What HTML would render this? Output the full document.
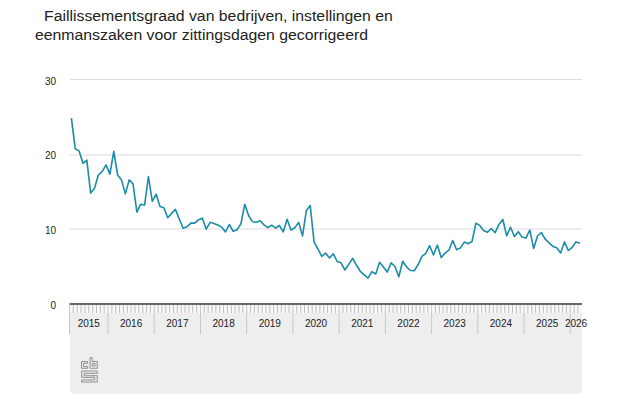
<!DOCTYPE html>
<html><head><meta charset="utf-8">
<style>
html,body{margin:0;padding:0;background:#fff;}
body{width:626px;height:417px;position:relative;overflow:hidden;font-family:"Liberation Sans",sans-serif;}
.t{position:absolute;white-space:nowrap;font-size:15.4px;color:#222;line-height:18px;transform:scaleX(1.027);transform-origin:0 0;}
svg{position:absolute;left:0;top:0;}
</style></head><body>
<div class="t" style="left:44px;top:7px">Faillissementsgraad van bedrijven, instellingen en</div>
<div class="t" style="left:34.5px;top:25.6px">eenmanszaken voor zittingsdagen gecorrigeerd</div>
<svg width="626" height="417" viewBox="0 0 626 417" font-family="Liberation Sans" font-size="10" fill="#222">
<g stroke="#dcdcdc" stroke-width="1">
<line x1="70" y1="79.5" x2="582" y2="79.5"/>
<line x1="70" y1="155" x2="582" y2="155"/>
<line x1="70" y1="229" x2="582" y2="229"/>
</g>
<g text-anchor="end">
<text x="56" y="84.5">30</text>
<text x="56" y="158.6">20</text>
<text x="56" y="233.6">10</text>
<text x="56" y="308.7">0</text>
</g>
<path d="M70,305 H582 V389 a5,5 0 0 1 -5,5 H75 a5,5 0 0 1 -5,-5 Z" fill="#eeeeee"/>
<rect x="70" y="305" width="512" height="8" fill="#f8f8f8"/>
<line x1="69.5" y1="305" x2="69.5" y2="334" stroke="#c8c8c8" stroke-width="1"/>
<line x1="73.35" y1="305" x2="73.35" y2="313" stroke="#bfbfbf" stroke-width="1"/>
<line x1="77.20" y1="305" x2="77.20" y2="313" stroke="#bfbfbf" stroke-width="1"/>
<line x1="81.06" y1="305" x2="81.06" y2="313" stroke="#bfbfbf" stroke-width="1"/>
<line x1="84.91" y1="305" x2="84.91" y2="313" stroke="#bfbfbf" stroke-width="1"/>
<line x1="88.76" y1="305" x2="88.76" y2="313" stroke="#bfbfbf" stroke-width="1"/>
<line x1="92.61" y1="305" x2="92.61" y2="313" stroke="#bfbfbf" stroke-width="1"/>
<line x1="96.46" y1="305" x2="96.46" y2="313" stroke="#bfbfbf" stroke-width="1"/>
<line x1="100.32" y1="305" x2="100.32" y2="313" stroke="#bfbfbf" stroke-width="1"/>
<line x1="104.17" y1="305" x2="104.17" y2="313" stroke="#bfbfbf" stroke-width="1"/>
<line x1="108.02" y1="305" x2="108.02" y2="334" stroke="#c8c8c8" stroke-width="1"/>
<line x1="111.87" y1="305" x2="111.87" y2="313" stroke="#bfbfbf" stroke-width="1"/>
<line x1="115.72" y1="305" x2="115.72" y2="313" stroke="#bfbfbf" stroke-width="1"/>
<line x1="119.58" y1="305" x2="119.58" y2="313" stroke="#bfbfbf" stroke-width="1"/>
<line x1="123.43" y1="305" x2="123.43" y2="313" stroke="#bfbfbf" stroke-width="1"/>
<line x1="127.28" y1="305" x2="127.28" y2="313" stroke="#bfbfbf" stroke-width="1"/>
<line x1="131.13" y1="305" x2="131.13" y2="313" stroke="#bfbfbf" stroke-width="1"/>
<line x1="134.98" y1="305" x2="134.98" y2="313" stroke="#bfbfbf" stroke-width="1"/>
<line x1="138.84" y1="305" x2="138.84" y2="313" stroke="#bfbfbf" stroke-width="1"/>
<line x1="142.69" y1="305" x2="142.69" y2="313" stroke="#bfbfbf" stroke-width="1"/>
<line x1="146.54" y1="305" x2="146.54" y2="313" stroke="#bfbfbf" stroke-width="1"/>
<line x1="150.39" y1="305" x2="150.39" y2="313" stroke="#bfbfbf" stroke-width="1"/>
<line x1="154.24" y1="305" x2="154.24" y2="334" stroke="#c8c8c8" stroke-width="1"/>
<line x1="158.10" y1="305" x2="158.10" y2="313" stroke="#bfbfbf" stroke-width="1"/>
<line x1="161.95" y1="305" x2="161.95" y2="313" stroke="#bfbfbf" stroke-width="1"/>
<line x1="165.80" y1="305" x2="165.80" y2="313" stroke="#bfbfbf" stroke-width="1"/>
<line x1="169.65" y1="305" x2="169.65" y2="313" stroke="#bfbfbf" stroke-width="1"/>
<line x1="173.50" y1="305" x2="173.50" y2="313" stroke="#bfbfbf" stroke-width="1"/>
<line x1="177.36" y1="305" x2="177.36" y2="313" stroke="#bfbfbf" stroke-width="1"/>
<line x1="181.21" y1="305" x2="181.21" y2="313" stroke="#bfbfbf" stroke-width="1"/>
<line x1="185.06" y1="305" x2="185.06" y2="313" stroke="#bfbfbf" stroke-width="1"/>
<line x1="188.91" y1="305" x2="188.91" y2="313" stroke="#bfbfbf" stroke-width="1"/>
<line x1="192.76" y1="305" x2="192.76" y2="313" stroke="#bfbfbf" stroke-width="1"/>
<line x1="196.62" y1="305" x2="196.62" y2="313" stroke="#bfbfbf" stroke-width="1"/>
<line x1="200.47" y1="305" x2="200.47" y2="334" stroke="#c8c8c8" stroke-width="1"/>
<line x1="204.32" y1="305" x2="204.32" y2="313" stroke="#bfbfbf" stroke-width="1"/>
<line x1="208.17" y1="305" x2="208.17" y2="313" stroke="#bfbfbf" stroke-width="1"/>
<line x1="212.02" y1="305" x2="212.02" y2="313" stroke="#bfbfbf" stroke-width="1"/>
<line x1="215.88" y1="305" x2="215.88" y2="313" stroke="#bfbfbf" stroke-width="1"/>
<line x1="219.73" y1="305" x2="219.73" y2="313" stroke="#bfbfbf" stroke-width="1"/>
<line x1="223.58" y1="305" x2="223.58" y2="313" stroke="#bfbfbf" stroke-width="1"/>
<line x1="227.43" y1="305" x2="227.43" y2="313" stroke="#bfbfbf" stroke-width="1"/>
<line x1="231.28" y1="305" x2="231.28" y2="313" stroke="#bfbfbf" stroke-width="1"/>
<line x1="235.14" y1="305" x2="235.14" y2="313" stroke="#bfbfbf" stroke-width="1"/>
<line x1="238.99" y1="305" x2="238.99" y2="313" stroke="#bfbfbf" stroke-width="1"/>
<line x1="242.84" y1="305" x2="242.84" y2="313" stroke="#bfbfbf" stroke-width="1"/>
<line x1="246.69" y1="305" x2="246.69" y2="334" stroke="#c8c8c8" stroke-width="1"/>
<line x1="250.54" y1="305" x2="250.54" y2="313" stroke="#bfbfbf" stroke-width="1"/>
<line x1="254.40" y1="305" x2="254.40" y2="313" stroke="#bfbfbf" stroke-width="1"/>
<line x1="258.25" y1="305" x2="258.25" y2="313" stroke="#bfbfbf" stroke-width="1"/>
<line x1="262.10" y1="305" x2="262.10" y2="313" stroke="#bfbfbf" stroke-width="1"/>
<line x1="265.95" y1="305" x2="265.95" y2="313" stroke="#bfbfbf" stroke-width="1"/>
<line x1="269.80" y1="305" x2="269.80" y2="313" stroke="#bfbfbf" stroke-width="1"/>
<line x1="273.66" y1="305" x2="273.66" y2="313" stroke="#bfbfbf" stroke-width="1"/>
<line x1="277.51" y1="305" x2="277.51" y2="313" stroke="#bfbfbf" stroke-width="1"/>
<line x1="281.36" y1="305" x2="281.36" y2="313" stroke="#bfbfbf" stroke-width="1"/>
<line x1="285.21" y1="305" x2="285.21" y2="313" stroke="#bfbfbf" stroke-width="1"/>
<line x1="289.06" y1="305" x2="289.06" y2="313" stroke="#bfbfbf" stroke-width="1"/>
<line x1="292.92" y1="305" x2="292.92" y2="334" stroke="#c8c8c8" stroke-width="1"/>
<line x1="296.77" y1="305" x2="296.77" y2="313" stroke="#bfbfbf" stroke-width="1"/>
<line x1="300.62" y1="305" x2="300.62" y2="313" stroke="#bfbfbf" stroke-width="1"/>
<line x1="304.47" y1="305" x2="304.47" y2="313" stroke="#bfbfbf" stroke-width="1"/>
<line x1="308.32" y1="305" x2="308.32" y2="313" stroke="#bfbfbf" stroke-width="1"/>
<line x1="312.18" y1="305" x2="312.18" y2="313" stroke="#bfbfbf" stroke-width="1"/>
<line x1="316.03" y1="305" x2="316.03" y2="313" stroke="#bfbfbf" stroke-width="1"/>
<line x1="319.88" y1="305" x2="319.88" y2="313" stroke="#bfbfbf" stroke-width="1"/>
<line x1="323.73" y1="305" x2="323.73" y2="313" stroke="#bfbfbf" stroke-width="1"/>
<line x1="327.58" y1="305" x2="327.58" y2="313" stroke="#bfbfbf" stroke-width="1"/>
<line x1="331.44" y1="305" x2="331.44" y2="313" stroke="#bfbfbf" stroke-width="1"/>
<line x1="335.29" y1="305" x2="335.29" y2="313" stroke="#bfbfbf" stroke-width="1"/>
<line x1="339.14" y1="305" x2="339.14" y2="334" stroke="#c8c8c8" stroke-width="1"/>
<line x1="342.99" y1="305" x2="342.99" y2="313" stroke="#bfbfbf" stroke-width="1"/>
<line x1="346.84" y1="305" x2="346.84" y2="313" stroke="#bfbfbf" stroke-width="1"/>
<line x1="350.70" y1="305" x2="350.70" y2="313" stroke="#bfbfbf" stroke-width="1"/>
<line x1="354.55" y1="305" x2="354.55" y2="313" stroke="#bfbfbf" stroke-width="1"/>
<line x1="358.40" y1="305" x2="358.40" y2="313" stroke="#bfbfbf" stroke-width="1"/>
<line x1="362.25" y1="305" x2="362.25" y2="313" stroke="#bfbfbf" stroke-width="1"/>
<line x1="366.10" y1="305" x2="366.10" y2="313" stroke="#bfbfbf" stroke-width="1"/>
<line x1="369.96" y1="305" x2="369.96" y2="313" stroke="#bfbfbf" stroke-width="1"/>
<line x1="373.81" y1="305" x2="373.81" y2="313" stroke="#bfbfbf" stroke-width="1"/>
<line x1="377.66" y1="305" x2="377.66" y2="313" stroke="#bfbfbf" stroke-width="1"/>
<line x1="381.51" y1="305" x2="381.51" y2="313" stroke="#bfbfbf" stroke-width="1"/>
<line x1="385.36" y1="305" x2="385.36" y2="334" stroke="#c8c8c8" stroke-width="1"/>
<line x1="389.22" y1="305" x2="389.22" y2="313" stroke="#bfbfbf" stroke-width="1"/>
<line x1="393.07" y1="305" x2="393.07" y2="313" stroke="#bfbfbf" stroke-width="1"/>
<line x1="396.92" y1="305" x2="396.92" y2="313" stroke="#bfbfbf" stroke-width="1"/>
<line x1="400.77" y1="305" x2="400.77" y2="313" stroke="#bfbfbf" stroke-width="1"/>
<line x1="404.62" y1="305" x2="404.62" y2="313" stroke="#bfbfbf" stroke-width="1"/>
<line x1="408.48" y1="305" x2="408.48" y2="313" stroke="#bfbfbf" stroke-width="1"/>
<line x1="412.33" y1="305" x2="412.33" y2="313" stroke="#bfbfbf" stroke-width="1"/>
<line x1="416.18" y1="305" x2="416.18" y2="313" stroke="#bfbfbf" stroke-width="1"/>
<line x1="420.03" y1="305" x2="420.03" y2="313" stroke="#bfbfbf" stroke-width="1"/>
<line x1="423.88" y1="305" x2="423.88" y2="313" stroke="#bfbfbf" stroke-width="1"/>
<line x1="427.74" y1="305" x2="427.74" y2="313" stroke="#bfbfbf" stroke-width="1"/>
<line x1="431.59" y1="305" x2="431.59" y2="334" stroke="#c8c8c8" stroke-width="1"/>
<line x1="435.44" y1="305" x2="435.44" y2="313" stroke="#bfbfbf" stroke-width="1"/>
<line x1="439.29" y1="305" x2="439.29" y2="313" stroke="#bfbfbf" stroke-width="1"/>
<line x1="443.14" y1="305" x2="443.14" y2="313" stroke="#bfbfbf" stroke-width="1"/>
<line x1="447.00" y1="305" x2="447.00" y2="313" stroke="#bfbfbf" stroke-width="1"/>
<line x1="450.85" y1="305" x2="450.85" y2="313" stroke="#bfbfbf" stroke-width="1"/>
<line x1="454.70" y1="305" x2="454.70" y2="313" stroke="#bfbfbf" stroke-width="1"/>
<line x1="458.55" y1="305" x2="458.55" y2="313" stroke="#bfbfbf" stroke-width="1"/>
<line x1="462.40" y1="305" x2="462.40" y2="313" stroke="#bfbfbf" stroke-width="1"/>
<line x1="466.26" y1="305" x2="466.26" y2="313" stroke="#bfbfbf" stroke-width="1"/>
<line x1="470.11" y1="305" x2="470.11" y2="313" stroke="#bfbfbf" stroke-width="1"/>
<line x1="473.96" y1="305" x2="473.96" y2="313" stroke="#bfbfbf" stroke-width="1"/>
<line x1="477.81" y1="305" x2="477.81" y2="334" stroke="#c8c8c8" stroke-width="1"/>
<line x1="481.66" y1="305" x2="481.66" y2="313" stroke="#bfbfbf" stroke-width="1"/>
<line x1="485.52" y1="305" x2="485.52" y2="313" stroke="#bfbfbf" stroke-width="1"/>
<line x1="489.37" y1="305" x2="489.37" y2="313" stroke="#bfbfbf" stroke-width="1"/>
<line x1="493.22" y1="305" x2="493.22" y2="313" stroke="#bfbfbf" stroke-width="1"/>
<line x1="497.07" y1="305" x2="497.07" y2="313" stroke="#bfbfbf" stroke-width="1"/>
<line x1="500.92" y1="305" x2="500.92" y2="313" stroke="#bfbfbf" stroke-width="1"/>
<line x1="504.78" y1="305" x2="504.78" y2="313" stroke="#bfbfbf" stroke-width="1"/>
<line x1="508.63" y1="305" x2="508.63" y2="313" stroke="#bfbfbf" stroke-width="1"/>
<line x1="512.48" y1="305" x2="512.48" y2="313" stroke="#bfbfbf" stroke-width="1"/>
<line x1="516.33" y1="305" x2="516.33" y2="313" stroke="#bfbfbf" stroke-width="1"/>
<line x1="520.18" y1="305" x2="520.18" y2="313" stroke="#bfbfbf" stroke-width="1"/>
<line x1="524.04" y1="305" x2="524.04" y2="334" stroke="#c8c8c8" stroke-width="1"/>
<line x1="527.89" y1="305" x2="527.89" y2="313" stroke="#bfbfbf" stroke-width="1"/>
<line x1="531.74" y1="305" x2="531.74" y2="313" stroke="#bfbfbf" stroke-width="1"/>
<line x1="535.59" y1="305" x2="535.59" y2="313" stroke="#bfbfbf" stroke-width="1"/>
<line x1="539.44" y1="305" x2="539.44" y2="313" stroke="#bfbfbf" stroke-width="1"/>
<line x1="543.30" y1="305" x2="543.30" y2="313" stroke="#bfbfbf" stroke-width="1"/>
<line x1="547.15" y1="305" x2="547.15" y2="313" stroke="#bfbfbf" stroke-width="1"/>
<line x1="551.00" y1="305" x2="551.00" y2="313" stroke="#bfbfbf" stroke-width="1"/>
<line x1="554.85" y1="305" x2="554.85" y2="313" stroke="#bfbfbf" stroke-width="1"/>
<line x1="558.70" y1="305" x2="558.70" y2="313" stroke="#bfbfbf" stroke-width="1"/>
<line x1="562.56" y1="305" x2="562.56" y2="313" stroke="#bfbfbf" stroke-width="1"/>
<line x1="566.41" y1="305" x2="566.41" y2="313" stroke="#bfbfbf" stroke-width="1"/>
<line x1="570.26" y1="305" x2="570.26" y2="334" stroke="#c8c8c8" stroke-width="1"/>
<line x1="574.11" y1="305" x2="574.11" y2="313" stroke="#bfbfbf" stroke-width="1"/>
<line x1="577.96" y1="305" x2="577.96" y2="313" stroke="#bfbfbf" stroke-width="1"/>
<line x1="69.5" y1="304" x2="582" y2="304" stroke="#666" stroke-width="2"/>
<g fill="#e4e4e4" stroke="#8a8a8a" stroke-width="0.9" fill-rule="evenodd">
<path d="M87.6,361.5 H81.5 V368.3 H87.6 V366.4 H83.5 V363.4 H87.6 Z"/>
<path d="M90,357.6 H92.2 V361.4 H97.3 V368.3 H90 Z M92.4,363.3 H95.0 V366.0 H92.4 Z"/>
<path d="M81.6,371 H97.3 V373.4 H84.3 V375.7 H97.3 V382.1 H81.6 V379.9 H94.6 V377.4 H81.6 Z"/>
</g>
<g fill="#222">
<text x="88.76" y="327" text-anchor="middle">2015</text>
<text x="131.13" y="327" text-anchor="middle">2016</text>
<text x="177.36" y="327" text-anchor="middle">2017</text>
<text x="223.58" y="327" text-anchor="middle">2018</text>
<text x="269.80" y="327" text-anchor="middle">2019</text>
<text x="316.03" y="327" text-anchor="middle">2020</text>
<text x="362.25" y="327" text-anchor="middle">2021</text>
<text x="408.48" y="327" text-anchor="middle">2022</text>
<text x="454.70" y="327" text-anchor="middle">2023</text>
<text x="500.92" y="327" text-anchor="middle">2024</text>
<text x="547.15" y="327" text-anchor="middle">2025</text>
<text x="576.04" y="327" text-anchor="middle">2026</text>
</g>
<polyline points="71.40,118.2 75.25,148.8 79.10,150.9 82.96,163.3 86.81,160.1 90.66,193.1 94.51,188.2 98.36,175.0 102.22,171.4 106.07,164.9 109.92,174.1 113.77,151.3 117.62,175.0 121.48,179.9 125.33,193.9 129.18,179.9 133.03,183.8 136.88,212.1 140.74,204.2 144.59,205.0 148.44,176.5 152.29,201.3 156.14,194.2 160.00,206.5 163.85,207.8 167.70,217.7 171.55,213.4 175.40,209.4 179.26,219.0 183.11,228.2 186.96,226.8 190.81,223.1 194.66,223.1 198.52,219.8 202.37,218.2 206.22,229.2 210.07,222.3 213.92,223.5 217.78,225.0 221.63,227.1 225.48,231.9 229.33,224.5 233.18,231.3 237.04,229.7 240.89,223.9 244.74,204.3 248.59,215.5 252.44,221.7 256.30,222.3 260.15,220.7 264.00,224.9 267.85,227.6 271.70,225.2 275.56,228.1 279.41,225.5 283.26,231.9 287.11,219.2 290.96,230.1 294.82,227.7 298.67,222.4 302.52,235.9 306.37,210.4 310.22,205.5 314.08,242.1 317.93,249.0 321.78,256.3 325.63,253.1 329.48,258.0 333.34,253.8 337.19,261.5 341.04,262.8 344.89,270.0 348.74,264.4 352.60,258.4 356.45,265.2 360.30,271.3 364.15,274.8 368.00,278.1 371.86,271.6 375.71,274.0 379.56,262.3 383.41,267.1 387.26,272.1 391.12,262.8 394.97,266.5 398.82,276.8 402.67,261.2 406.52,266.8 410.38,270.5 414.23,270.8 418.08,264.8 421.93,256.3 425.78,253.3 429.64,245.7 433.49,255.0 437.34,245.0 441.19,257.6 445.04,253.1 448.90,250.2 452.75,240.5 456.60,249.8 460.45,247.9 464.30,242.1 468.16,243.7 472.01,241.5 475.86,223.3 479.71,225.4 483.56,230.5 487.42,232.3 491.27,228.5 495.12,232.7 498.97,224.4 502.82,219.5 506.68,235.8 510.53,227.2 514.38,236.5 518.23,231.7 522.08,237.1 525.94,238.1 529.79,230.0 533.64,248.4 537.49,236.0 541.34,232.5 545.20,239.2 549.05,242.9 552.90,246.4 556.75,247.7 560.60,252.9 564.46,241.9 568.31,250.5 572.16,247.3 576.01,241.9 579.86,243.2" fill="none" stroke="#1a8ca7" stroke-width="1.6" stroke-linejoin="round"/>
</svg>
</body></html>
